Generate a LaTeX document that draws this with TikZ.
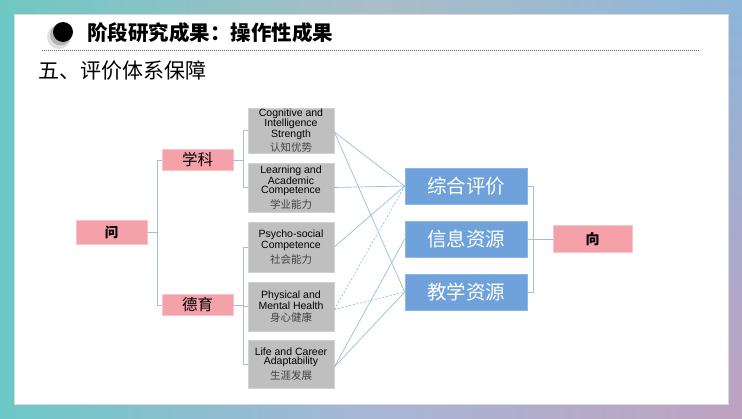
\documentclass[tikz,border=0pt]{standalone}
\usepackage{fontspec}
\setmainfont{Liberation Sans}
\newfontfamily\cjk{Noto Sans CJK SC}
\definecolor{bgA}{HTML}{6CC8C6}
\definecolor{bgB}{HTML}{A8B6D6}
\definecolor{bgC}{HTML}{BFA2C0}
\definecolor{topA}{HTML}{6FC7C4}
\definecolor{topB}{HTML}{A9BEC8}
\definecolor{topC}{HTML}{8EB5D9}
\definecolor{pinkc}{HTML}{F4A1A9}
\definecolor{pinkb}{HTML}{F8C4C8}
\definecolor{grayc}{HTML}{BFBFBF}
\definecolor{grayb}{HTML}{D2D2D2}
\definecolor{bluec}{HTML}{6FA1DA}
\definecolor{blueb}{HTML}{8DB6E4}
\definecolor{linkc}{HTML}{98BFD6}
\definecolor{brkc}{HTML}{A7BFD0}
\definecolor{zhgraycol}{HTML}{444444}
\newcommand\zhgray[1]{{\cjk\fontsize{10.5}{11}\selectfont\color{zhgraycol}#1}}
\begin{document}
\begin{tikzpicture}[x=1pt,y=-1pt,
  pinkbox/.style={fill=pinkc, draw=pinkb, line width=0.6pt, inner sep=0pt},
  graybox/.style={fill=grayc, draw=grayb, line width=0.6pt, minimum width=86pt, inner sep=0pt, align=center, text=black, font=\fontsize{10.5}{9.4}\selectfont},
  bluebox/.style={fill=bluec, draw=blueb, line width=0.6pt, minimum width=122pt, minimum height=36pt, inner sep=0pt, text=white, font=\cjk\fontsize{19.5}{20}\selectfont},
  link/.style={draw=linkc, line width=0.7pt},
  brk/.style={draw=brkc, line width=0.8pt}]
% background
\useasboundingbox (0,0) rectangle (742,418);
\shade[left color=bgA, right color=bgC, middle color=bgB] (0,0) rectangle (742,418);
\shade[left color=topA, right color=topC, middle color=topB] (0,0) rectangle (742,14);
\shade[top color=topC, bottom color=bgC] (728,14) rectangle (742,418);
\fill[white] (14,14) rectangle (728,404);
\draw[black!15, line width=0.5pt] (14,14) rectangle (728,404);
% header
\fill[black, opacity=0.12] (59,37) circle (12);
\fill[black, opacity=0.2] (60.5,35) circle (10.5);
\fill[black] (63,32) circle (10);
\node[anchor=west, inner sep=0pt, font=\cjk\bfseries\fontsize{20.5}{21}\selectfont] (title) at (87,33) {阶段研究成果：操作性成果};
\draw[black!60, line width=0.6pt, dash pattern=on 0.8pt off 1.2pt] (42,50) -- (700,50);
\node[anchor=west, inner sep=0pt, font=\cjk\fontsize{21}{21}\selectfont] (sub) at (38,71) {五、评价体系保障};
% pink nodes
\node[pinkbox, minimum width=71pt, minimum height=24pt, font=\cjk\bfseries\fontsize{13.5}{14}\selectfont] (wen) at (111.5,232) {问};
\node[pinkbox, minimum width=71pt, minimum height=21pt, font=\cjk\fontsize{15.5}{16}\selectfont] (xk) at (197.5,160) {学科};
\node[pinkbox, minimum width=71pt, minimum height=21pt, font=\cjk\fontsize{15.5}{16}\selectfont] (dy) at (197.5,305) {德育};
\node[pinkbox, minimum width=79pt, minimum height=27pt, font=\cjk\bfseries\fontsize{14}{14}\selectfont] (xiang) at (592.5,239) {向};
% gray nodes
\node[graybox, minimum height=45pt] (g1) at (291,130.5) {Cognitive and\\Intelligence\\Strength\\[2pt]\zhgray{认知优势}};
\node[graybox, minimum height=49pt] (g2) at (291,187.5) {Learning and\\Academic\\Competence\\[3pt]\zhgray{学业能力}};
\node[graybox, minimum height=50pt] (g3) at (291,247) {Psycho-social\\Competence\\[3pt]\zhgray{社会能力}};
\node[graybox, minimum height=49pt] (g4) at (291,306.5) {Physical and\\Mental Health\\[3pt]\zhgray{身心健康}};
\node[graybox, minimum height=48pt] (g5) at (291,364) {Life and Career\\Adaptability\\[3pt]\zhgray{生涯发展}};
% blue nodes
\node[bluebox] (c1) at (466,186) {综合评价};
\node[bluebox] (c2) at (466,239) {信息资源};
\node[bluebox] (c3) at (466,292) {教学资源};
% bracket coordinates
\coordinate (bw) at (157,232);
\coordinate (bxk) at (243,160);
\coordinate (bdy) at (243,305);
\coordinate (bc) at (533,239);
% brackets
\draw[brk] (wen.east) -- (bw);
\draw[brk] (xk.west) -- (xk.west -| bw) -- (dy.west -| bw) -- (dy.west);
\draw[brk] (xk.east) -- (bxk);
\draw[brk] (g1.west) -- (g1.west -| bxk) -- (g2.west -| bxk) -- (g2.west);
\draw[brk] (dy.east) -- (bdy);
\draw[brk] (g3.west) -- (g3.west -| bdy) -- (g5.west -| bdy) -- (g5.west);
\draw[brk] (g4.west) -- (g4.west -| bdy);
\draw[brk] (c1.east) -- (c1.east -| bc) -- (c3.east -| bc) -- (c3.east);
\draw[brk] (c2.east) -- (xiang.west);
% links
\draw[link] ([yshift=-1.5pt]g1.east) -- (c1.west);
\draw[link] ([yshift=-1.5pt]g1.east) -- (c3.west);
\draw[link] (g2.east) -- (c1.west);
\draw[link] (g3.east) -- (c1.west);
\draw[link, dash pattern=on 2pt off 1.8pt] ([yshift=-3pt]g4.east) -- (c1.west);
\draw[link, dash pattern=on 2pt off 1.8pt] ([yshift=-3pt]g4.east) -- (c3.west);
\draw[link] ([yshift=-3pt]g5.east) -- (c2.west);
\draw[link] ([yshift=-3pt]g5.east) -- (c3.west);
\end{tikzpicture}
\end{document}
